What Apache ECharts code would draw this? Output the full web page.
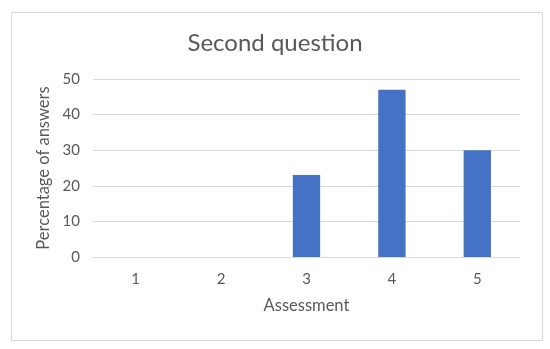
<!DOCTYPE html>
<html>
<head>
<meta charset="utf-8">
<script src="https://cdn.jsdelivr.net/npm/echarts@6/dist/echarts.min.js"></script>
<style>html,body{margin:0;padding:0;background:#fff}#c{width:550px;height:349px}</style>
</head>
<body>
<div id="c"></div>
<script>
const categories = ['1', '2', '3', '4', '5'];
const values = [0, 0, 23, 47, 30];
const titleText = 'Second question';
const xName = 'Assessment';
const yName = 'Percentage of answers';

const chart = echarts.init(document.getElementById('c'), null, {renderer: 'canvas'});
const font = 'Lato, "Open Sans", sans-serif';
chart.setOption({
  animation: false,
  backgroundColor: '#fff',
  graphic: [{
    type: 'rect', left: 9, top: 10, shape: {width: 531, height: 328},
    style: {fill: 'none', stroke: '#d9d9d9', lineWidth: 1}, silent: true
  }],
  title: {
    text: titleText, left: 'center', top: 26,
    textStyle: {fontFamily: font, fontSize: 24, fontWeight: 'normal', color: '#595959'}
  },
  grid: {left: 93, right: 30, top: 79, bottom: 92},
  xAxis: {
    type: 'category', data: categories,
    name: xName, nameLocation: 'middle', nameGap: 40,
    nameTextStyle: {fontFamily: font, fontSize: 16.5, color: '#595959'},
    axisLine: {lineStyle: {color: '#d9d9d9'}},
    axisTick: {show: false},
    axisLabel: {fontFamily: font, fontSize: 15, color: '#595959', margin: 15}
  },
  yAxis: {
    type: 'value', min: 0, max: 50, interval: 10,
    name: yName, nameLocation: 'middle', nameGap: 39,
    nameTextStyle: {fontFamily: font, fontSize: 16.5, color: '#595959'},
    axisLine: {show: false}, axisTick: {show: false},
    axisLabel: {fontFamily: font, fontSize: 15, color: '#595959', margin: 13},
    splitLine: {lineStyle: {color: '#d9d9d9'}}
  },
  series: [{
    type: 'bar', data: values, barWidth: '32%',
    itemStyle: {color: '#4472c4'}
  }]
});
</script>
</body>
</html>
